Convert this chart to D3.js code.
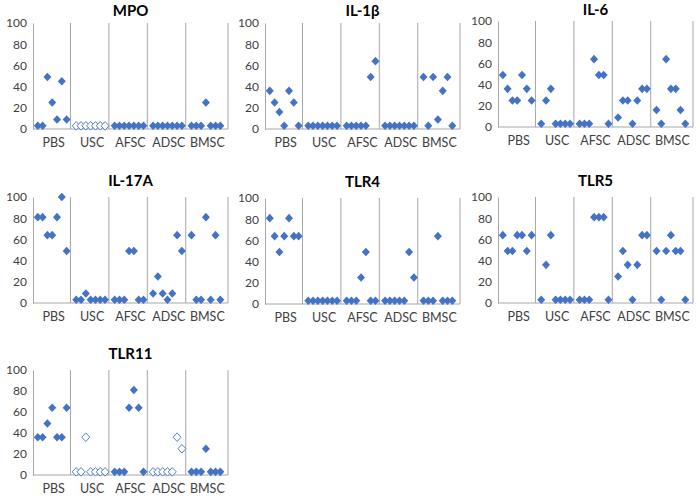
<!DOCTYPE html>
<html><head><meta charset="utf-8">
<script src="https://cdn.jsdelivr.net/npm/d3@7"></script>
<style>
html,body{margin:0;padding:0;background:#fff;}
svg{display:block;font-family:Lato,"Open Sans",sans-serif;}
</style></head>
<body><svg id="c" width="700" height="496"></svg>
<script>
const groups = ["PBS","USC","AFSC","ADSC","BMSC"];
const yTicks = [0,20,40,60,80,100];
const titles = ["MPO","IL-1β","IL-6","IL-17A","TLR4","TLR5","TLR11"];

const mpo   = [[3,3,49,25,9,45,9],[3,3,3,3,3,3,3],[3,3,3,3,3,3,3],[3,3,3,3,3,3,3],[3,3,3,25,3,3,3]];
const il1b  = [[36,25,16,3,36,25,3],[3,3,3,3,3,3,3],[3,3,3,3,3,49,64],[3,3,3,3,3,3,3],[49,3,49,9,36,49,3]];
const il6   = [[49,36,25,25,49,36,25],[3,25,36,3,3,3,3],[3,3,3,64,49,49,3],[9,25,25,3,25,36,36],[16,3,64,36,36,16,3]];
const il17a = [[81,81,64,64,81,100,49],[3,3,9,3,3,3,3],[3,3,3,49,49,3,3],[9,25,9,3,9,64,49],[64,3,3,81,3,64,3]];
const tlr4  = [[81,64,49,64,81,64,64],[3,3,3,3,3,3,3],[3,3,3,25,49,3,3],[3,3,3,3,3,49,25],[3,3,3,64,3,3,3]];
const tlr5  = [[64,49,49,64,64,49,64],[3,36,64,3,3,3,3],[3,3,3,81,81,81,3],[25,49,36,3,36,64,64],[49,3,49,64,49,49,3]];
const tlr11 = [[36,36,49,64,36,36,64],[3,3,36,3,3,3,3],[3,3,3,64,81,64,3],[3,3,3,3,3,36,25],[3,3,3,25,3,3,3]];
// hollow markers: [panel][group]
const hollow = [[false,true,false,false,false],[false,false,false,false,false],[false,false,false,false,false],
                [false,false,false,false,false],[false,false,false,false,false],[false,false,false,false,false],
                [false,true,false,true,false]];
const panelData = [mpo, il1b, il6, il17a, tlr4, tlr5, tlr11];

// layout
const panels = [
  {x0:33, x1:228, y0:129, y1:23, ty:11, ly:143},
  {x0:265, x1:460, y0:129, y1:23, ty:11, ly:143},
  {x0:498, x1:693, y0:127, y1:21, ty:10, ly:141},
  {x0:33, x1:228, y0:303, y1:197, ty:181, ly:317},
  {x0:265, x1:460, y0:304, y1:198, ty:182, ly:318},
  {x0:498, x1:693, y0:303, y1:197, ty:181, ly:317},
  {x0:33, x1:228, y0:475, y1:370, ty:354, ly:489}
];
const blue = "#4472C4", gray = "#a6a6a6";
const svg = d3.select("#c");
const dw = 4, dh = 4.3;
const diamondPath = `M0,${-dh}L${dw},0L0,${dh}L${-dw},0Z`;

panels.forEach((p, pi) => {
  const x = d3.scaleLinear().domain([0, 40.6]).range([p.x0, p.x1]);
  const y = d3.scaleLinear().domain([0, 100]).range([p.y0, p.y1]);
  const g = svg.append("g");
  // title
  g.append("text").attr("x", (p.x0+p.x1)/2).attr("y", p.ty).attr("dy","0.35em")
    .attr("text-anchor","middle").attr("font-weight","bold").attr("font-size",15).attr("fill","#000")
    .text(titles[pi]);
  // y axis
  const ya = g.append("g").attr("transform", `translate(${p.x0},0)`)
    .call(d3.axisLeft(y).tickValues(yTicks).tickSize(0).tickPadding(6));
  ya.select(".domain").attr("stroke", gray);
  ya.selectAll("text").attr("font-size",12).attr("fill","#404040").attr("font-family","Lato,sans-serif");
  // x axis line
  g.append("line").attr("x1",p.x0).attr("x2",p.x1).attr("y1",p.y0).attr("y2",p.y0).attr("stroke",gray);
  // separators
  [7.8,15.8,23.8,31.8,40.6].forEach(s => {
    g.append("line").attr("x1",x(s)).attr("x2",x(s)).attr("y1",p.y0).attr("y2",p.y1).attr("stroke",gray);
  });
  // group labels
  groups.forEach((name, gi) => {
    g.append("text").attr("x", x(gi*8+4.3)).attr("y", p.ly).attr("dy","0.35em")
      .attr("text-anchor","middle").attr("font-size",12.5).attr("fill","#404040").text(name);
  });
  // points
  panelData[pi].forEach((vals, gi) => {
    const h = hollow[pi][gi];
    vals.forEach((v, i) => {
      g.append("path").attr("d", diamondPath)
        .attr("transform", `translate(${x(gi*8+i+1)},${y(v)})`)
        .attr("fill", h ? "#fff" : blue)
        .attr("stroke", h ? blue : "none").attr("stroke-width", h ? 0.9 : 0);
    });
  });
});
</script></body></html>
